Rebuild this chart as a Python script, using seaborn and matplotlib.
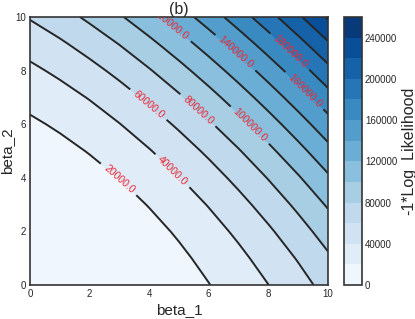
import numpy as np
import matplotlib
matplotlib.use("Agg")
import matplotlib.pyplot as plt
import seaborn as sns

# parameter grid (beta_1 along columns, beta_2 along rows)
beta_1 = [0, 1, 2, 3, 4, 5, 6, 7, 8, 9, 10]
beta_2 = [0, 1, 2, 3, 4, 5, 6, 7, 8, 9, 10]

# -1 * log likelihood, one row per beta_2 value
nll_b2_0 = [0, 0, 0, 2000, 6100, 12000, 19500, 28800, 39800, 52500, 66900]
nll_b2_1 = [0, 0, 600, 4100, 9300, 16300, 25000, 35400, 47600, 61400, 77000]
nll_b2_2 = [0, 200, 3200, 7800, 14200, 22300, 32200, 43700, 57000, 72000, 88700]
nll_b2_3 = [1000, 3300, 7400, 13200, 20800, 30000, 41000, 53700, 68100, 84200, 102100]
nll_b2_4 = [4600, 8100, 13400, 20300, 29000, 39400, 51500, 65300, 80900, 98100, 117100]
nll_b2_5 = [9900, 14600, 21000, 29100, 38900, 50400, 63600, 78600, 95300, 113700, 133900]
nll_b2_6 = [16900, 22700, 30200, 39500, 50400, 63100, 77500, 93600, 111400, 131000, 152200]
nll_b2_7 = [25600, 32500, 41100, 51500, 63600, 77400, 92900, 110200, 129200, 149900, 172300]
nll_b2_8 = [35900, 43900, 53700, 65200, 78500, 93400, 110100, 128500, 148600, 170400, 194000]
nll_b2_9 = [47800, 57000, 68000, 80600, 95000, 111100, 128900, 148400, 169700, 192700, 217400]
nll_b2_10 = [61500, 71800, 83900, 97700, 113200, 130400, 149400, 170100, 192400, 216600, 242400]

fill_levels = list(range(0, 260001, 20000))
line_levels = list(range(20000, 240001, 20000))
cbar_ticks = list(range(0, 240001, 40000))

Z = np.array([nll_b2_0, nll_b2_1, nll_b2_2, nll_b2_3, nll_b2_4, nll_b2_5,
              nll_b2_6, nll_b2_7, nll_b2_8, nll_b2_9, nll_b2_10])
X, Y = np.meshgrid(beta_1, beta_2)

sns.set_style("white")
plt.rcParams["font.family"] = ["Liberation Sans", "DejaVu Sans"]

fig = plt.figure(figsize=(4.15, 3.19), dpi=100)
ax = fig.add_axes([0.0723, 0.1066, 0.7178, 0.8401])
cax = fig.add_axes([0.829, 0.1066, 0.0434, 0.8401])

cmap = sns.color_palette("Blues", as_cmap=True)
cf = ax.contourf(X, Y, Z, levels=fill_levels, cmap=cmap)
cs = ax.contour(X, Y, Z, levels=line_levels, colors="#262626", linewidths=1.4)

# where the labels sit on the lines
label_spots = [(3.1, 4.1), (4.9, 4.4), (4.1, 6.9), (5.7, 6.6), (7.5, 6.1),
               (4.8, 9.85), (7.0, 8.8), (9.3, 7.35), (8.8, 8.8)]
labels = ax.clabel(cs, inline=True, fontsize=7.5, fmt="%.1f", colors="#ee2a35",
                   manual=label_spots)
for t in labels:
    t.set_clip_on(True)

for s in ax.spines.values():
    s.set_color("#333333")
    s.set_linewidth(1.2)

ax.set_xlim(0, 10)
ax.set_ylim(0, 10)
ax.set_xticks([0, 2, 4, 6, 8, 10])
ax.set_yticks([0, 2, 4, 6, 8, 10])
ax.tick_params(labelsize=7, pad=3, length=0)
ax.set_xlabel("beta_1", fontsize=11, labelpad=3)
ax.set_ylabel("beta_2", fontsize=11, labelpad=1)
ax.set_title("(b)", fontsize=11.5, pad=2)

cb = fig.colorbar(cf, cax=cax, ticks=cbar_ticks)
cb.outline.set_edgecolor("#333333")
cb.outline.set_linewidth(1.2)
cb.ax.tick_params(labelsize=7, length=0, pad=2)
cb.set_label("-1*Log_Likelihood", fontsize=11.5, labelpad=3)

fig.savefig("out.png", dpi=100)
